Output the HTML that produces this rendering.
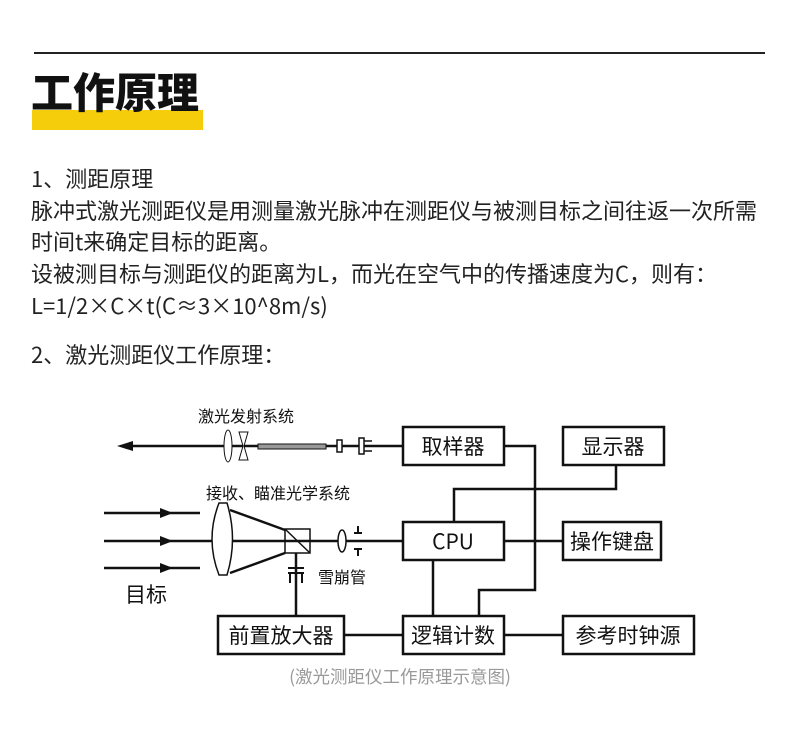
<!DOCTYPE html>
<html><head><meta charset="utf-8"><style>
body{margin:0;width:800px;height:735px;background:#fff;position:relative;font-family:"Noto Sans CJK SC","Liberation Sans",sans-serif;color:#222;overflow:hidden}
.t{position:absolute;left:31px;font-size:22px;white-space:nowrap;line-height:1}
</style></head><body>
<div style="position:absolute;left:34px;top:52px;width:731px;height:2px;background:#222"></div>
<div style="position:absolute;left:32px;top:110px;width:171px;height:20px;background:#f5cd0a"></div>
<div style="position:absolute;left:31px;top:68px;font-size:42px;font-weight:900;color:#111;line-height:1.1;letter-spacing:0px">工作原理</div>
<div class="t" style="top:167px">1、测距原理</div>
<div class="t" style="top:199px">脉冲式激光测距仪是用测量激光脉冲在测距仪与被测目标之间往返一次所需</div>
<div class="t" style="top:230px">时间t来确定目标的距离。</div>
<div class="t" style="top:262px">设被测目标与测距仪的距离为L，而光在空气中的传播速度为C，则有：</div>
<div class="t" style="top:294px">L=1/2×C×t(C≈3×10^8m/s)</div>
<div class="t" style="top:343px">2、激光测距仪工作原理：</div>
<svg width="800" height="735" style="position:absolute;left:0;top:0" font-family="Noto Sans CJK SC,Liberation Sans,sans-serif">
<g fill="none" stroke="#111" stroke-width="2.5">
<rect x="403" y="427" width="101" height="38"/>
<rect x="563" y="427" width="101" height="38"/>
<rect x="403" y="522" width="101" height="38"/>
<rect x="563" y="522" width="98" height="38"/>
<rect x="403" y="616" width="101" height="38"/>
<rect x="563" y="616" width="131" height="38"/>
<rect x="218" y="616" width="126" height="38"/>
<polyline points="504,446 535,446 535,590 479,590 479,616"/>
<polyline points="616,465 616,489 454,489 454,522"/>
<line x1="504" y1="541" x2="563" y2="541"/>
<line x1="433" y1="560" x2="433" y2="616"/>
<line x1="504" y1="635" x2="563" y2="635"/>
<line x1="344" y1="635" x2="403" y2="635"/>
<line x1="125" y1="446" x2="403" y2="446"/>
<line x1="104" y1="541" x2="403" y2="541"/>
<line x1="104" y1="513" x2="200" y2="513"/>
<line x1="104" y1="568" x2="200" y2="568"/>
<line x1="296" y1="553" x2="296" y2="616"/>
<line x1="230" y1="510" x2="285" y2="530"/>
<line x1="230" y1="573" x2="285" y2="553"/>
<rect x="285" y="529" width="25" height="24" stroke-width="1.5"/>
<line x1="285" y1="529" x2="310" y2="553" stroke-width="1.5"/>
</g>
<g fill="#111">
<polygon points="117,446 133,441 133,451"/>
<polygon points="173,513 160,508 160,518"/>
<polygon points="173,541 160,536 160,546"/>
<polygon points="173,568 160,563 160,573"/>
</g>
<path d="M219,503 Q205,539 219,575 L227,575 Q238,539 227,503 Z" fill="#fff" stroke="#111" stroke-width="1.5"/>
<ellipse cx="228" cy="446" rx="4" ry="16" fill="#fff" stroke="#111" stroke-width="1"/>
<path d="M239,432 L248,432 L244,446 L248,460 L239,460 L243,446 Z" fill="#fff" stroke="#111" stroke-width="1"/>
<rect x="258" y="444" width="68" height="5" fill="#999" stroke="#111" stroke-width="1"/>
<rect x="337" y="440" width="5" height="12" fill="#fff" stroke="#111" stroke-width="1.5"/>
<rect x="359" y="438" width="5" height="16" fill="#fff" stroke="#111" stroke-width="1.5"/>
<line x1="364" y1="441" x2="372" y2="441" stroke="#111" stroke-width="1.5"/>
<line x1="364" y1="451" x2="372" y2="451" stroke="#111" stroke-width="1.5"/>
<ellipse cx="342" cy="541" rx="4" ry="11" fill="#fff" stroke="#111" stroke-width="1.5"/>
<g stroke="#111" stroke-width="2"><line x1="358" y1="526" x2="358" y2="533"/><line x1="354" y1="533" x2="362" y2="533"/><line x1="358" y1="549" x2="358" y2="556"/><line x1="354" y1="549" x2="362" y2="549"/>
<line x1="288" y1="568" x2="304" y2="568"/><line x1="288" y1="573" x2="304" y2="573"/><line x1="290" y1="573" x2="290" y2="583"/><line x1="302" y1="573" x2="302" y2="583"/></g>
<g font-size="21" fill="#111" text-anchor="middle">
<text x="453" y="454">取样器</text>
<text x="613" y="454">显示器</text>
<text x="453" y="549">CPU</text>
<text x="612" y="549">操作键盘</text>
<text x="453" y="643">逻辑计数</text>
<text x="628" y="643">参考时钟源</text>
<text x="281" y="643">前置放大器</text>
</g>
<g font-size="16" fill="#111">
<text x="198" y="422">激光发射系统</text>
<text x="206" y="499">接收、瞄准光学系统</text>
<text x="318" y="583">雪崩管</text>
</g>
<text x="125" y="602" font-size="21" fill="#111">目标</text>
<text x="400" y="683" font-size="17.5" fill="#999" text-anchor="middle">(激光测距仪工作原理示意图)</text>
</svg>
</body></html>
